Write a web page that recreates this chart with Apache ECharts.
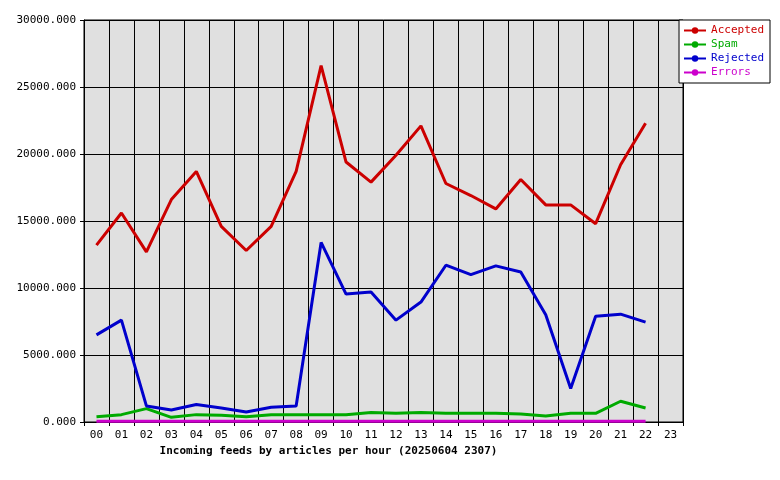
<!DOCTYPE html>
<html>
<head>
<meta charset="utf-8">
<script src="https://cdn.jsdelivr.net/npm/echarts@6/dist/echarts.min.js"></script>
<style>html,body{margin:0;padding:0;background:#fff}#chart{width:780px;height:480px}</style>
</head>
<body>
<div id="chart"></div>
<script>
const hours = ['00','01','02','03','04','05','06','07','08','09','10','11','12','13','14','15','16','17','18','19','20','21','22','23'];
const accepted = [13200,15600,12700,16600,18700,14600,12800,14600,18700,26600,19400,17900,19900,22100,17800,16900,15900,18100,16200,16200,14800,19200,22300];
const spam = [400,550,1000,350,550,500,400,550,550,550,550,700,650,700,650,650,650,600,450,650,650,1550,1050];
const rejected = [6500,7600,1200,900,1300,1050,750,1100,1200,13400,9550,9700,7600,8950,11700,11000,11650,11200,8000,2500,7900,8050,7450];
const errors = [50,50,50,50,50,50,50,50,50,50,50,50,50,50,50,50,50,50,50,50,50,50,50];

const font = 'DejaVu Sans Mono';
const names = ['Accepted','Spam','Rejected','Errors'];
const colors = ['#cc0000','#00aa00','#0000cc','#cc00cc'];
const datas = [accepted, spam, rejected, errors];

const chart = echarts.init(document.getElementById('chart'));
chart.setOption({
  animation: false,
  textStyle: { fontFamily: font },
  grid: { left: 84, right: 97, top: 20, bottom: 58, show: true, backgroundColor: '#e0e0e0', borderColor: '#000', borderWidth: 1 },
  legend: {
    orient: 'vertical', right: 10, top: 20, itemGap: 3, itemWidth: 22, itemHeight: 8,
    backgroundColor: '#fff', borderColor: '#000', borderWidth: 1, padding: [5, 6, 5, 4],
    data: names.map((n, i) => ({ name: n, textStyle: { color: colors[i] } })),
    textStyle: { fontFamily: font, fontSize: 11 }
  },
  xAxis: {
    type: 'category', data: hours, boundaryGap: true,
    name: 'Incoming feeds by articles per hour (20250604 2307)',
    nameLocation: 'middle', nameGap: 24,
    nameTextStyle: { fontFamily: font, fontSize: 11, fontWeight: 'bold', color: '#000', padding: [0, 110, 0, 0] },
    axisLine: { lineStyle: { color: '#000' } },
    axisTick: { show: true, alignWithLabel: false, length: 4, lineStyle: { color: '#000' } },
    axisLabel: { color: '#000', fontFamily: font, fontSize: 11, interval: 0 },
    splitLine: { show: true, lineStyle: { color: '#000', width: 1 } }
  },
  yAxis: {
    type: 'value', min: 0, max: 30000, interval: 5000,
    axisLine: { show: true, lineStyle: { color: '#000' } },
    axisTick: { show: true, length: 4, lineStyle: { color: '#000' } },
    axisLabel: { color: '#000', fontFamily: font, fontSize: 11, formatter: v => v.toFixed(3) },
    splitLine: { show: true, lineStyle: { color: '#000', width: 1 } }
  },
  series: names.map((n, i) => ({
    name: n, type: 'line', data: datas[i], symbol: 'none',
    itemStyle: { color: colors[i] },
    lineStyle: { color: colors[i], width: 3 }
  }))
});
</script>
</body>
</html>
